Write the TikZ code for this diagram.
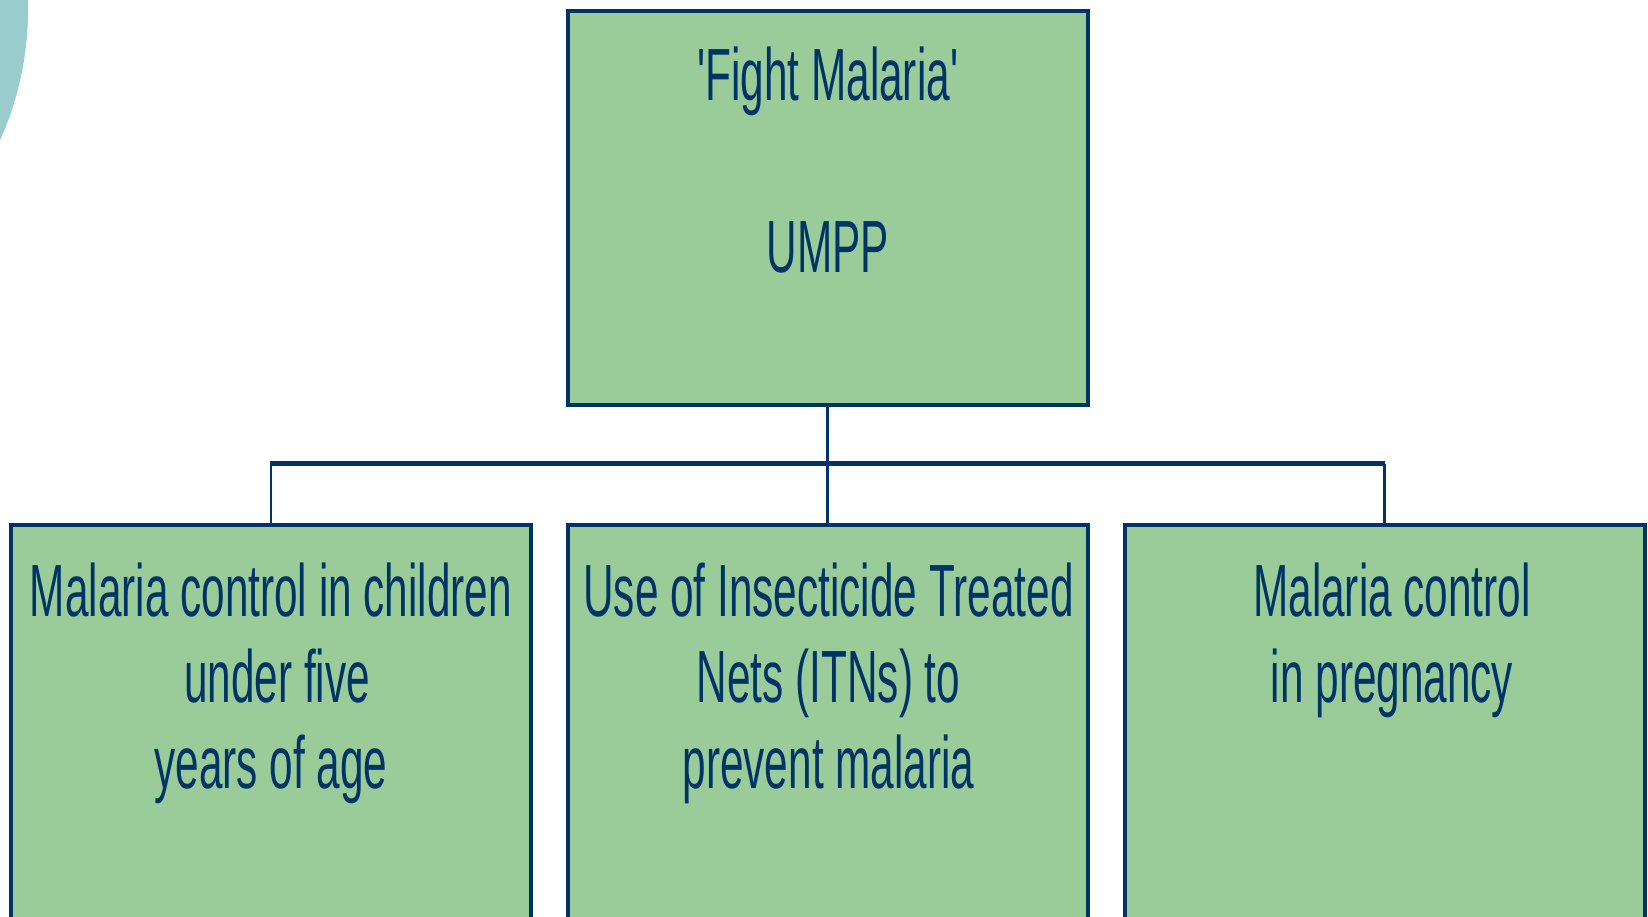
\documentclass[tikz,border=0pt]{standalone}
\usepackage{fontspec}
\setmainfont{Liberation Sans}[FakeStretch=0.572, Ligatures=TeXOff]
\definecolor{boxfill}{HTML}{99CC99}
\definecolor{navy}{HTML}{003366}
\definecolor{teal}{HTML}{99CCCC}
\begin{document}
\begin{tikzpicture}[x=1pt,y=-1pt,
  box/.style={draw=navy, fill=boxfill, line width=4pt, rectangle, inner sep=0pt, minimum width=520pt},
  lbl/.style={anchor=north, inner sep=0pt, align=center, text=navy, font=\fontsize{74}{86}\selectfont},
  conn/.style={draw=navy, line width=2.8pt},
  hbar/.style={draw=navy, line width=4.2pt, line cap=rect}]
\useasboundingbox (0,0) rectangle (1648,916);
\clip (0,0) rectangle (1648,916);
\fill[teal] (-288,10) circle (316);
% boxes
\node[box, minimum height=394pt] (top) at (827.75,207.5) {};
\node[box, minimum height=440pt] (b1) at (271,744.5) {};
\node[box, minimum height=440pt] (b2) at (827.75,744.5) {};
\node[box, minimum height=440pt] (b3) at (1384.75,744.5) {};
% connectors
\coordinate (hub) at (827.75,463.5);
\coordinate (L) at (271,463.5);
\coordinate (R) at (1384.75,463.5);
\draw[conn] (top.south) -- (hub);
\draw[conn] (hub) -- (b2.north);
\draw[conn] (L) -- (b1.north);
\draw[conn] (R) -- (b3.north);
\draw[hbar] ([xshift=1.4pt]L) -- ([xshift=-1.4pt]R);
% labels
\node[lbl] (ttop) at (827.75,47) {'Fight Malaria'\\[86pt]UMPP};
\node[lbl] (t1) at (271,563) {Malaria control in children\\\hspace*{12pt}under five\\years of age};
\node[lbl] (t2) at (828.5,563) {Use of Insecticide Treated\\Nets (ITNs) to\\prevent malaria};
\node[lbl] (t3) at (1392,563) {Malaria control\\in pregnancy};
\end{tikzpicture}
\end{document}
